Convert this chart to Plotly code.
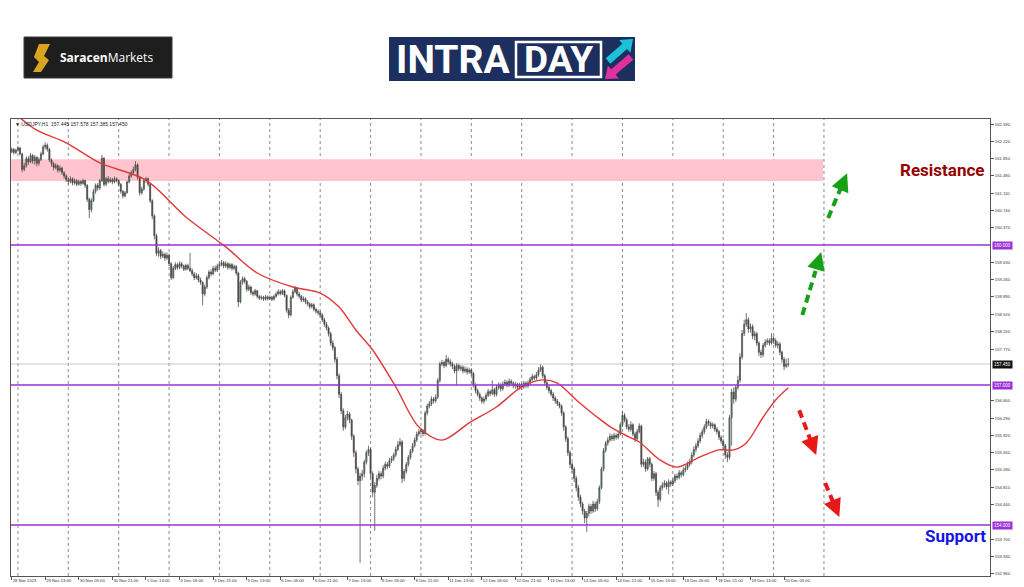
import plotly.graph_objects as go

# ---------------- data (USDJPY H1) ----------------
first_open = 162.00
closes = [
 162.05, 161.98, 162.03,
 162.08, 161.95, 161.62, 161.70, 161.85, 161.78, 161.92, 161.80, 161.88, 161.75, 161.83, 161.95, 162.10, 162.14, 162.05, 161.82, 161.74, 161.66, 161.70, 161.60, 161.65, 161.55, 161.48, 161.40,
 161.36, 161.42, 161.33, 161.38, 161.30, 161.36, 161.32, 161.38, 161.28, 160.98, 160.76, 160.95, 161.15, 161.28, 161.22, 161.38, 161.86, 161.30, 161.42, 161.36, 161.40, 161.35, 161.42, 161.38,
 161.30, 161.15, 161.05, 161.12, 161.35, 161.48, 161.55, 161.62, 161.72, 161.45, 161.12, 161.20, 161.38, 161.42, 161.30, 160.95, 160.62, 160.20, 159.82, 159.88, 159.76, 159.80, 159.72, 159.78,
 159.60, 159.30, 159.50, 159.58, 159.52, 159.60, 159.55, 159.48, 159.56, 159.50, 159.45, 159.38, 159.30, 159.34, 159.25, 159.20, 158.95, 159.10, 159.30, 159.42, 159.38, 159.50, 159.46, 159.55,
 159.58, 159.62, 159.55, 159.60, 159.52, 159.58, 159.50, 159.54, 159.40, 158.78, 159.20, 159.28, 159.22, 159.05, 159.10, 158.98, 158.95, 159.02, 158.90, 158.86, 158.88, 158.84, 158.89, 158.85,
 158.88, 158.84, 158.90, 158.95, 159.00, 158.96, 159.02, 158.92, 158.60, 158.50, 158.88, 159.00, 159.08, 158.95, 158.90, 158.82, 158.85, 158.78, 158.74, 158.68, 158.72, 158.62, 158.58, 158.55,
 158.50, 158.40, 158.30, 158.22, 158.10, 157.90, 157.80, 157.55, 157.20, 156.80, 156.45, 156.10, 156.30, 156.38, 156.25, 155.90, 155.55, 155.20, 154.95, 155.05, 155.10, 155.35, 155.55, 155.62,
 155.10, 154.70, 154.85, 155.00, 155.10, 155.05, 155.22, 155.30, 155.26, 155.38, 155.42, 155.50, 155.62, 155.72, 155.78, 155.00, 155.15, 155.30, 155.45, 155.58, 155.70, 155.82, 155.95, 156.00,
 156.02, 155.96, 156.40, 156.55, 156.60, 156.70, 156.66, 156.74, 157.10, 157.45, 157.48, 157.42, 157.55, 157.50, 157.45, 157.40, 157.30, 157.42, 157.35, 157.38, 157.30, 157.34, 157.28, 157.32,
 157.25, 157.00, 156.88, 156.80, 156.72, 156.65, 156.70, 156.78, 156.86, 156.82, 156.90, 156.80, 156.95, 157.00, 156.92, 157.02, 157.06, 157.00, 157.08, 157.04, 156.98, 157.02, 156.95, 157.00,
 156.96, 157.04, 156.98, 157.05, 157.12, 157.18, 157.15, 157.22, 157.32, 157.38, 157.20, 157.05, 156.95, 156.88, 156.80, 156.72, 156.66, 156.60, 156.55, 156.40, 156.10, 155.85, 155.55, 155.30,
 155.20, 155.00, 154.80, 154.60, 154.45, 154.30, 154.15, 154.25, 154.40, 154.30, 154.45, 154.35, 154.50, 154.80, 155.20, 155.60, 155.75, 155.82, 155.90, 155.85, 155.92, 155.88, 155.95, 156.15,
 156.35, 156.25, 156.10, 156.05, 156.15, 155.95, 155.85, 156.00, 156.12, 155.30, 155.35, 155.20, 155.42, 155.30, 155.00, 155.10, 154.70, 154.55, 154.80, 154.85, 154.90, 154.82, 154.92, 154.88,
 154.95, 155.05, 155.02, 155.12, 155.08, 155.18, 155.22, 155.30, 155.35, 155.50, 155.62, 155.70, 155.80, 155.92, 156.00, 156.10, 156.22, 156.18, 156.12, 156.15, 156.05, 156.00, 155.88, 155.80,
 155.70, 155.50, 155.45, 156.30, 156.85, 156.70, 156.95, 157.10, 157.60, 158.10, 158.30, 158.40, 158.20, 158.25, 158.05, 158.10, 157.90, 157.70, 157.65, 157.85, 157.92, 157.95, 157.90, 158.00,
 157.95, 157.85, 157.88, 157.70, 157.55, 157.40, 157.445, 157.45,
]
highs = [
 162.09, 162.08, 162.06,
 162.12, 162.10, 161.98, 161.76, 161.90, 161.90, 161.97, 161.95, 161.93, 161.90, 161.88, 162.00, 162.15, 162.20, 162.18, 162.08, 161.86, 161.78, 161.75, 161.73, 161.70, 161.68, 161.58, 161.52,
 161.45, 161.47, 161.45, 161.43, 161.41, 161.40, 161.39, 161.42, 161.40, 161.30, 161.02, 161.00, 161.20, 161.32, 161.33, 161.42, 161.93, 161.88, 161.46, 161.48, 161.45, 161.44, 161.47, 161.45,
 161.41, 161.33, 161.18, 161.16, 161.38, 161.52, 161.60, 161.68, 161.80, 161.75, 161.48, 161.25, 161.42, 161.46, 161.45, 161.32, 160.98, 160.66, 160.24, 159.95, 159.92, 159.86, 159.84, 159.84,
 159.82, 159.63, 159.55, 159.63, 159.62, 159.65, 159.64, 159.58, 159.60, 159.60, 159.83, 159.50, 159.42, 159.40, 159.38, 159.30, 159.22, 159.15, 159.35, 159.46, 159.48, 159.55, 159.56, 159.60,
 159.64, 159.68, 159.66, 159.65, 159.63, 159.62, 159.61, 159.58, 159.57, 159.43, 159.25, 159.33, 159.32, 159.25, 159.15, 159.13, 159.03, 159.06, 159.04, 158.93, 158.92, 158.91, 158.93, 158.92,
 158.92, 158.91, 158.94, 159.00, 159.05, 159.04, 159.06, 159.05, 158.94, 158.65, 158.92, 159.05, 159.12, 159.10, 158.99, 158.93, 158.90, 158.88, 158.82, 158.77, 158.76, 158.75, 158.66, 158.62,
 158.59, 158.54, 158.44, 158.35, 158.26, 158.14, 157.96, 157.84, 157.60, 157.25, 156.85, 156.50, 156.36, 156.45, 156.42, 156.28, 155.95, 155.60, 155.25, 155.12, 155.18, 155.40, 155.60, 155.70,
 155.66, 155.15, 154.92, 155.08, 155.16, 155.15, 155.28, 155.36, 155.35, 155.44, 155.48, 155.55, 155.68, 155.80, 155.86, 155.82, 155.20, 155.35, 155.50, 155.63, 155.76, 155.88, 156.00, 156.06,
 156.08, 156.06, 156.45, 156.60, 156.66, 156.76, 156.74, 156.80, 157.15, 157.50, 157.54, 157.52, 157.64, 157.60, 157.55, 157.50, 157.44, 157.47, 157.46, 157.43, 157.42, 157.40, 157.38, 157.37,
 157.36, 157.28, 157.04, 156.92, 156.84, 156.76, 156.75, 156.84, 156.92, 156.90, 157.10, 156.94, 157.00, 157.06, 157.04, 157.08, 157.12, 157.10, 157.14, 157.12, 157.08, 157.07, 157.05, 157.05,
 157.04, 157.09, 157.08, 157.10, 157.17, 157.24, 157.22, 157.28, 157.38, 157.44, 157.42, 157.24, 157.10, 157.00, 156.92, 156.85, 156.76, 156.70, 156.64, 156.58, 156.44, 156.14, 155.90, 155.60,
 155.35, 155.25, 155.05, 154.86, 154.65, 154.50, 154.35, 154.30, 154.46, 154.45, 154.52, 154.50, 154.56, 154.85, 155.25, 155.65, 155.80, 155.88, 155.96, 155.95, 155.98, 155.96, 156.00, 156.20,
 156.45, 156.40, 156.30, 156.16, 156.22, 156.18, 156.00, 156.06, 156.18, 156.15, 155.42, 155.40, 155.46, 155.46, 155.34, 155.16, 155.14, 154.75, 154.85, 154.92, 154.96, 154.94, 154.98, 154.96,
 155.00, 155.10, 155.10, 155.18, 155.16, 155.24, 155.28, 155.36, 155.42, 155.56, 155.68, 155.76, 155.86, 155.98, 156.06, 156.16, 156.28, 156.26, 156.22, 156.20, 156.18, 156.10, 156.04, 155.92,
 155.84, 155.74, 155.56, 156.36, 156.92, 156.95, 157.00, 157.20, 157.68, 158.18, 158.40, 158.54, 158.45, 158.32, 158.30, 158.16, 158.14, 157.94, 157.76, 157.90, 157.98, 158.00, 158.00, 158.11,
 158.05, 158.00, 157.94, 157.92, 157.74, 157.60, 157.56, 157.578,
]
lows = [
 161.97, 161.94, 161.95,
 162.00, 161.92, 161.56, 161.58, 161.66, 161.72, 161.75, 161.74, 161.72, 161.68, 161.70, 161.80, 161.92, 162.05, 162.00, 161.78, 161.68, 161.60, 161.62, 161.55, 161.56, 161.50, 161.42, 161.35,
 161.30, 161.32, 161.28, 161.29, 161.26, 161.27, 161.27, 161.29, 161.22, 160.92, 160.58, 160.70, 160.92, 161.10, 161.16, 161.18, 161.35, 161.25, 161.26, 161.32, 161.33, 161.30, 161.32, 161.34,
 161.25, 161.10, 161.00, 161.02, 161.10, 161.32, 161.44, 161.50, 161.58, 161.40, 161.06, 161.08, 161.16, 161.33, 161.25, 160.90, 160.55, 160.12, 159.76, 159.75, 159.70, 159.72, 159.66, 159.68,
 159.55, 159.25, 159.27, 159.46, 159.47, 159.48, 159.50, 159.44, 159.45, 159.46, 159.42, 159.33, 159.25, 159.26, 159.20, 159.15, 158.71, 158.90, 159.06, 159.26, 159.33, 159.35, 159.42, 159.42,
 159.50, 159.54, 159.50, 159.51, 159.47, 159.48, 159.45, 159.46, 159.35, 158.67, 158.75, 159.15, 159.17, 159.00, 159.01, 158.93, 158.90, 158.91, 158.86, 158.82, 158.82, 158.80, 158.81, 158.81,
 158.82, 158.80, 158.81, 158.87, 158.92, 158.92, 158.93, 158.88, 158.55, 158.43, 158.47, 158.85, 158.96, 158.90, 158.85, 158.78, 158.78, 158.73, 158.69, 158.63, 158.64, 158.58, 158.53, 158.50,
 158.45, 158.35, 158.25, 158.17, 158.04, 157.84, 157.74, 157.48, 157.12, 156.72, 156.38, 156.02, 156.05, 156.24, 156.18, 155.82, 155.46, 155.10, 154.85, 153.19, 154.95, 155.02, 155.30, 155.48,
 155.02, 154.60, 153.88, 154.80, 154.95, 154.98, 155.00, 155.17, 155.20, 155.22, 155.33, 155.37, 155.46, 155.58, 155.68, 154.90, 154.94, 155.10, 155.25, 155.40, 155.54, 155.66, 155.78, 155.90,
 155.94, 155.90, 155.92, 156.35, 156.50, 156.55, 156.60, 156.62, 156.70, 157.05, 157.40, 157.36, 157.38, 157.44, 157.40, 157.34, 157.25, 157.00, 157.30, 157.30, 157.25, 157.26, 157.22, 157.24,
 157.20, 156.95, 156.82, 156.75, 156.66, 156.60, 156.60, 156.66, 156.74, 156.76, 156.78, 156.75, 156.76, 156.90, 156.86, 156.88, 156.98, 156.95, 156.96, 156.99, 156.93, 156.92, 156.90, 156.90,
 156.90, 156.92, 156.94, 156.94, 157.00, 157.08, 157.10, 157.11, 157.18, 157.28, 157.15, 157.00, 156.90, 156.82, 156.75, 156.66, 156.60, 156.55, 156.50, 156.34, 156.02, 155.78, 155.48, 155.22,
 155.12, 154.92, 154.72, 154.52, 154.38, 154.22, 154.04, 153.85, 154.18, 154.24, 154.26, 154.28, 154.30, 154.45, 154.76, 155.15, 155.55, 155.70, 155.78, 155.80, 155.80, 155.83, 155.84, 155.92,
 156.10, 156.20, 156.05, 156.00, 156.00, 155.90, 155.78, 155.82, 155.96, 155.24, 155.25, 155.14, 155.16, 155.24, 154.94, 154.95, 154.62, 154.39, 154.50, 154.74, 154.80, 154.76, 154.66, 154.82,
 154.84, 154.90, 154.96, 154.98, 155.02, 155.04, 155.13, 155.18, 155.25, 155.30, 155.45, 155.56, 155.65, 155.75, 155.86, 155.95, 156.05, 156.12, 156.06, 156.07, 156.00, 155.94, 155.82, 155.74,
 155.62, 155.42, 155.35, 155.40, 155.70, 156.60, 156.64, 156.90, 157.05, 157.55, 158.05, 158.25, 158.12, 158.12, 157.98, 157.96, 157.84, 157.62, 157.58, 157.60, 157.80, 157.86, 157.84, 157.86,
 157.88, 157.80, 157.78, 157.64, 157.48, 157.32, 157.36, 157.385,
]

# moving average (red line), read at selected bars
ma_bars = [0, 4, 12, 26, 42, 64, 83, 102, 117, 134, 147, 156, 164, 172, 183, 194, 205, 218, 231, 243,
           253, 260, 269, 279, 286, 294, 299, 309, 317, 328, 337, 344, 350, 358, 364, 370]
ma_values = [162.84, 162.72, 162.46, 162.19, 161.76, 161.39, 160.60, 159.96, 159.40, 159.10, 158.97, 158.67,
             158.18, 157.75, 156.96, 156.10, 155.82, 156.19, 156.53, 156.96, 157.11, 157.04, 156.68, 156.31,
             156.08, 155.89, 155.78, 155.39, 155.24, 155.46, 155.61, 155.61, 155.76, 156.31, 156.68, 156.94]

# horizontal levels
levels = [160.000, 157.000, 154.000]
last_price = 157.450
zone_low, zone_high = 161.37, 161.84

# axis tick labels
xtick_bars = list(range(0, 369, 16))
xtick_labels = ["28 Nov 2023", "29 Nov 13:00", "30 Nov 05:00", "30 Nov 21:00", "1 Dec 13:00", "4 Dec 05:00",
                "4 Dec 21:00", "5 Dec 13:00", "6 Dec 05:00", "6 Dec 21:00", "7 Dec 13:00", "8 Dec 05:00",
                "8 Dec 21:00", "11 Dec 13:00", "12 Dec 05:00", "12 Dec 21:00", "13 Dec 13:00", "14 Dec 05:00",
                "14 Dec 21:00", "15 Dec 13:00", "18 Dec 05:00", "18 Dec 21:00", "19 Dec 13:00", "20 Dec 05:00"]
ytick_vals = [162.59, 162.22, 161.85, 161.48, 161.11, 160.74, 160.37, 159.63, 159.26, 158.89, 158.52, 158.15,
              157.77, 156.66, 156.29, 155.92, 155.55, 155.18, 154.81, 154.44, 153.70, 153.33, 152.96]
ytick_text = ["%.3f" % v for v in ytick_vals]

# ---------------- figure ----------------
W, H = 1024, 587
L, R, T, B = 11, 34, 119, 11
PW, PH = W - L - R, H - T - B


def px(x):
    return (x - L) / PW


def py(y):
    return (H - B - y) / PH


opens = [first_open] + closes[:-1]
bars = list(range(len(closes)))

fig = go.Figure()
fig.add_trace(go.Candlestick(
    x=bars, open=opens, high=highs, low=lows, close=closes,
    increasing=dict(line=dict(color="#4f4f4f", width=0.8), fillcolor="#3e9a4a"),
    decreasing=dict(line=dict(color="#4f4f4f", width=0.8), fillcolor="#3a2a25"),
    whiskerwidth=0, hoverinfo="skip", showlegend=False))
fig.add_trace(go.Scatter(
    x=ma_bars, y=ma_values, mode="lines",
    line=dict(color="#e03838", width=1.4, shape="spline", smoothing=0.9),
    hoverinfo="skip", showlegend=False))

shapes = []
# vertical dotted day separators
for b in range(3, 388, 24):
    shapes.append(dict(type="line", xref="x", yref="paper", x0=b, x1=b, y0=0, y1=1, layer="below",
                       line=dict(color="#8c8c8c", width=1, dash="dot")))
# resistance zone
shapes.append(dict(type="rect", xref="paper", yref="y", x0=0, x1=px(823), y0=zone_low, y1=zone_high,
                   fillcolor="#ffc4cd", line=dict(width=0), layer="below"))
# last price line
shapes.append(dict(type="line", xref="paper", yref="y", x0=0, x1=1, y0=last_price, y1=last_price,
                   line=dict(color="#c8c8c8", width=1), layer="below"))
# purple levels
for lv in levels:
    shapes.append(dict(type="line", xref="paper", yref="y", x0=0, x1=1, y0=lv, y1=lv,
                       line=dict(color="#9b30d8", width=1.4)))

annotations = []
# price boxes on the axis
for lv in levels:
    annotations.append(dict(xref="paper", yref="y", x=1, y=lv, xanchor="left", xshift=2, text="%.3f" % lv,
                            showarrow=False, bgcolor="#9b30d8", font=dict(size=4.5, color="white",
                            family="Liberation Sans"), borderpad=1))
annotations.append(dict(xref="paper", yref="y", x=1, y=last_price, xanchor="left", xshift=2,
                        text="%.3f" % last_price, showarrow=False, bgcolor="#111111",
                        font=dict(size=4.5, color="white", family="Liberation Sans"), borderpad=1))
# header
annotations.append(dict(xref="paper", yref="paper", x=px(13), y=py(124), xanchor="left", yanchor="middle",
                        text="▼ USDJPY,H1  %.3f %.3f %.3f %.3f" % (opens[-1], highs[-1], lows[-1], closes[-1]),
                        showarrow=False, font=dict(size=5, color="#222", family="Liberation Sans")))
# Resistance / Support labels
annotations.append(dict(xref="paper", yref="y", x=px(986), y=161.61, xanchor="right", yanchor="middle",
                        text="<b>Resistance</b>", showarrow=False,
                        font=dict(size=17, color="#980000", family="Roboto")))
annotations.append(dict(xref="paper", yref="y", x=px(988), y=153.77, xanchor="right", yanchor="middle",
                        text="<b>Support</b>", showarrow=False,
                        font=dict(size=17, color="#1414e6", family="Roboto")))


# dashed arrows
def dashed_arrow(x0, y0, x1, y1, color):
    fx, fy = x0 + 0.7 * (x1 - x0), y0 + 0.7 * (y1 - y0)
    shapes.append(dict(type="line", xref="x", yref="y", x0=x0, y0=y0, x1=fx, y1=fy,
                       line=dict(color=color, width=4, dash="8px,5px")))
    sx, sy = x0 + 0.76 * (x1 - x0), y0 + 0.76 * (y1 - y0)
    annotations.append(dict(xref="x", yref="y", x=x1, y=y1, axref="x", ayref="y", ax=sx, ay=sy, text="",
                            showarrow=True, arrowhead=2, arrowsize=0.9, arrowwidth=4, arrowcolor=color))


dashed_arrow(376.7, 158.50, 385.7, 159.85, "#16a016")
dashed_arrow(389.0, 160.58, 398.0, 161.54, "#16a016")
dashed_arrow(375.2, 156.46, 383.3, 155.50, "#e81818")
dashed_arrow(387.6, 154.90, 394.3, 154.17, "#e81818")

# ---------------- logos (paper coordinates) ----------------
shapes.append(dict(type="rect", xref="paper", yref="paper", x0=px(24), x1=px(172), y0=py(78), y1=py(37),
                   fillcolor="#1e1e1e", line=dict(color="#3a3a3a", width=1)))
s_pts = [(39, 44), (50, 44), (44, 56), (49, 60), (41, 72), (33, 72), (39, 62), (34, 57)]
shapes.append(dict(type="path", xref="paper", yref="paper",
                   path="M " + " L ".join("%f,%f" % (px(a), py(b)) for a, b in s_pts) + " Z",
                   fillcolor="#d9a521", line=dict(width=0)))
annotations.append(dict(xref="paper", yref="paper", x=px(58), y=py(57.5), xanchor="left", yanchor="middle",
                        text="<b>Saracen</b>Markets", showarrow=False,
                        font=dict(size=12, color="white", family="Open Sans")))

shapes.append(dict(type="rect", xref="paper", yref="paper", x0=px(389), x1=px(635), y0=py(81), y1=py(37),
                   fillcolor="#1c2f5e", line=dict(width=0)))
shapes.append(dict(type="rect", xref="paper", yref="paper", x0=px(516), x1=px(601), y0=py(77), y1=py(42),
                   fillcolor="rgba(0,0,0,0)", line=dict(color="white", width=2.5)))
annotations.append(dict(xref="paper", yref="paper", x=px(394), y=py(60), xanchor="left", yanchor="middle",
                        text="<b>INTRA</b>", showarrow=False,
                        font=dict(size=39, color="white", family="Roboto")))
annotations.append(dict(xref="paper", yref="paper", x=px(558.5), y=py(60), xanchor="center", yanchor="middle",
                        text="<b>DAY</b>", showarrow=False,
                        font=dict(size=37, color="white", family="Roboto")))


def arrow_poly(tail, tip, sw, hw, hl):
    import math
    dx, dy = tip[0] - tail[0], tip[1] - tail[1]
    n = math.hypot(dx, dy)
    ux, uy = dx / n, dy / n
    vx, vy = -uy, ux
    bx, by = tip[0] - ux * hl, tip[1] - uy * hl
    pts = [(tail[0] + vx * sw / 2, tail[1] + vy * sw / 2), (bx + vx * sw / 2, by + vy * sw / 2),
           (bx + vx * hw / 2, by + vy * hw / 2), tip, (bx - vx * hw / 2, by - vy * hw / 2),
           (bx - vx * sw / 2, by - vy * sw / 2), (tail[0] - vx * sw / 2, tail[1] - vy * sw / 2)]
    return "M " + " L ".join("%f,%f" % (px(a), py(b)) for a, b in pts) + " Z"


shapes.append(dict(type="path", xref="paper", yref="paper", path=arrow_poly((608, 61), (633, 39), 7, 17, 11),
                   fillcolor="#1cc3d8", line=dict(width=0)))
shapes.append(dict(type="path", xref="paper", yref="paper", path=arrow_poly((631, 57), (605, 79), 7, 17, 11),
                   fillcolor="#e2309c", line=dict(width=0)))

fig.update_layout(
    width=W, height=H, margin=dict(l=L, r=R, t=T, b=B, pad=0, autoexpand=False),
    paper_bgcolor="white", plot_bgcolor="white", showlegend=False,
    shapes=shapes, annotations=annotations,
    xaxis=dict(range=[-0.3, 466.1], tickvals=xtick_bars, ticktext=xtick_labels, ticks="outside", ticklen=3,
               tickangle=0, tickcolor="#555", tickfont=dict(size=4.2, color="#333", family="Liberation Sans"),
               ticklabelposition="outside right", showgrid=False, zeroline=False, showline=True, mirror=True,
               linecolor="#555", linewidth=1, rangeslider=dict(visible=False), fixedrange=True,
               automargin=False),
    yaxis=dict(side="right", range=[152.908, 162.70], tickvals=ytick_vals, ticktext=ytick_text,
               ticks="outside", ticklen=3, tickcolor="#555",
               tickfont=dict(size=4.2, color="#333", family="Liberation Sans"),
               showgrid=False, zeroline=False, showline=True, mirror=True, linecolor="#555", linewidth=1,
               fixedrange=True, automargin=False),
)

fig.write_html("out.html", config={"displayModeBar": False},
               post_script="document.body.style.margin='0';document.body.style.overflow='hidden';")
